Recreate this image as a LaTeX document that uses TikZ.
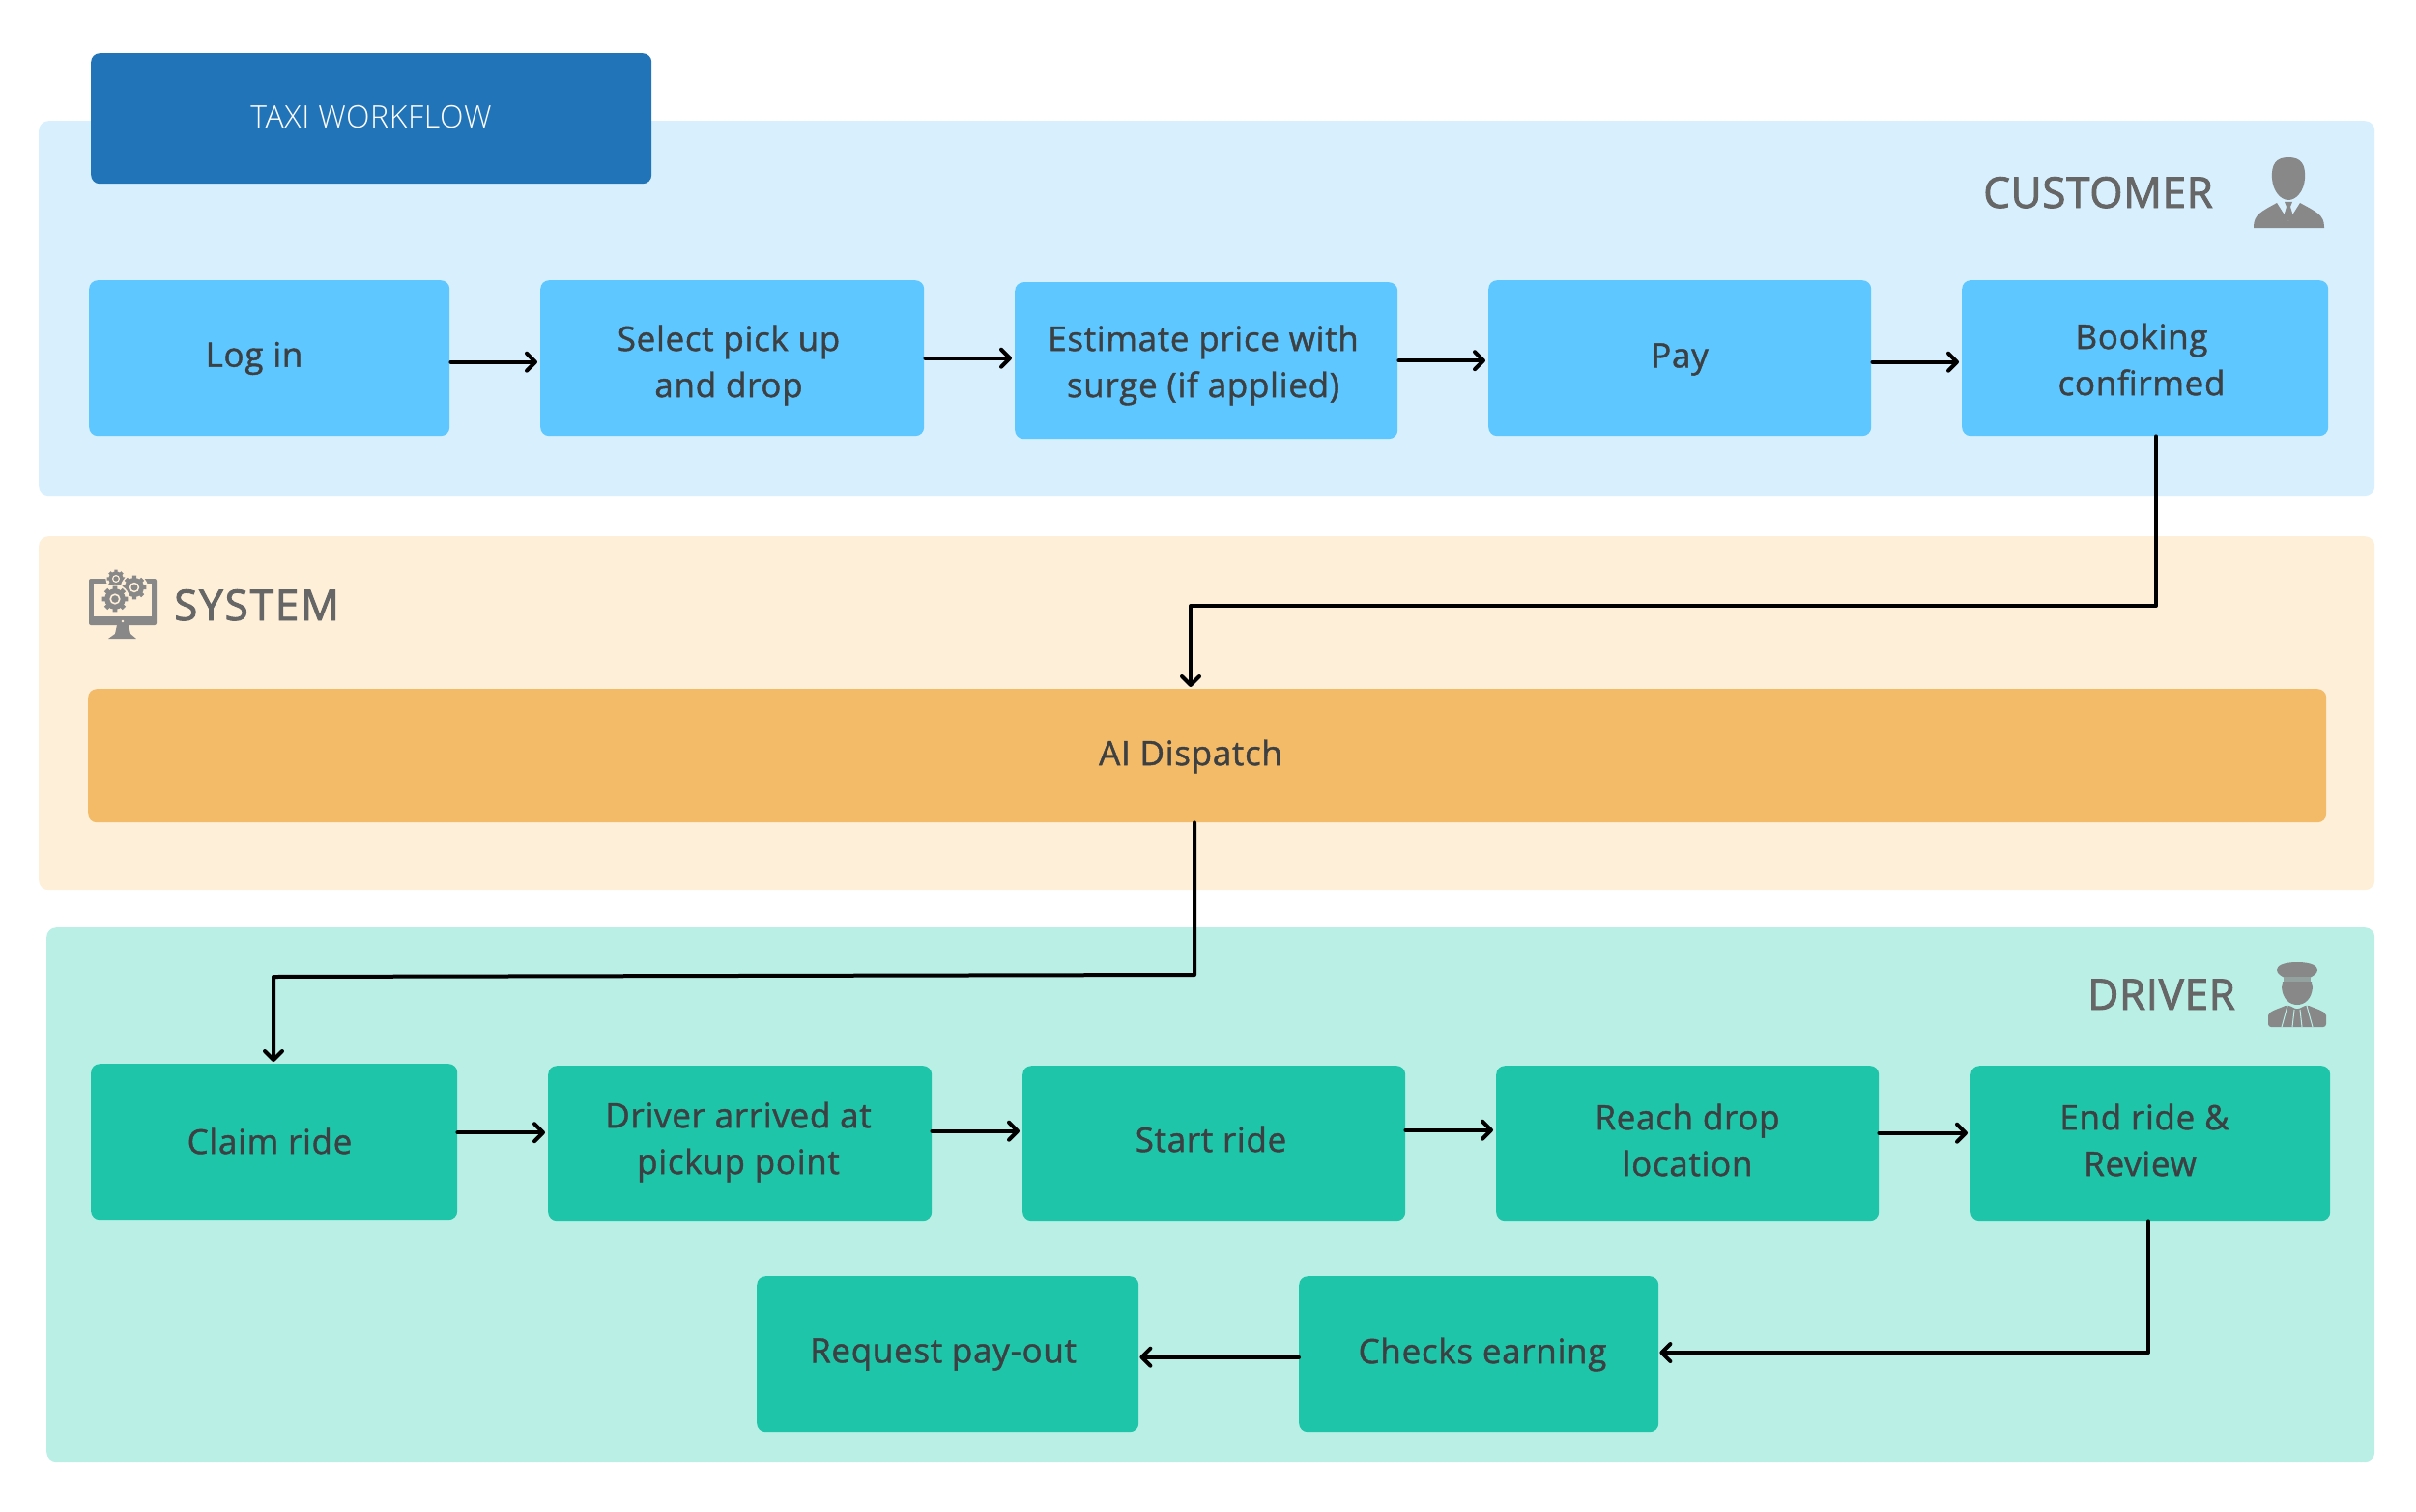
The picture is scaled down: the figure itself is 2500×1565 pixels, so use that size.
\documentclass[tikz,border=0pt]{standalone}
\usepackage{fontspec}
\setmainfont{Open Sans}
\newfontfamily\bodyfont[LetterSpace=2,FakeBold=1.2]{Open Sans}
\newfontfamily\headfont[LetterSpace=1.5,FakeBold=2]{Open Sans}
\newfontfamily\sysfont[LetterSpace=4.2,FakeBold=2]{Open Sans}
\newfontfamily\lightfont[UprightFont=* Light,LetterSpace=2]{Open Sans}
\usetikzlibrary{arrows.meta,calc}
\definecolor{bandC}{HTML}{D8F0FD}
\definecolor{bandS}{HTML}{FEEFD9}
\definecolor{bandD}{HTML}{BAEFE6}
\definecolor{boxC}{HTML}{5FC7FF}
\definecolor{boxS}{HTML}{F3BB67}
\definecolor{boxD}{HTML}{1FC5A8}
\definecolor{titleB}{HTML}{2274B8}
\definecolor{inkT}{HTML}{3C4043}
\definecolor{headT}{HTML}{666666}
\definecolor{iconG}{HTML}{888888}
\tikzset{
 band/.style={rounded corners=10pt,inner sep=0pt,anchor=north west},
 flowbox/.style={rounded corners=9pt,inner sep=0pt,anchor=north west},
 lbl/.style={text=inkT,font=\bodyfont\fontsize{35}{48}\selectfont,align=center,inner sep=0pt},
 head/.style={text=headT,font=\headfont\fontsize{44}{50}\selectfont,inner sep=0pt},
 flow/.style={draw=black,line width=4pt,line cap=round,line join=round,-{Straight Barb[length=9pt,width=18pt,line width=4pt,round]}},
}
\newcommand{\bx}[7]{\node[#1,fill=#7,minimum width=#5pt-#3pt,minimum height=#6pt-#4pt] (#2) at (#3,#4) {};}
\newcommand{\gearshape}[4]{% x y r bg
 \fill[#4] (#1,#2) circle[radius=#3*1.12];
 \foreach \a in {0,45,...,315}{\fill[iconG] ($(#1,#2)+(\a-14:#3*0.7)$) -- ($(#1,#2)+(\a-10:#3)$) -- ($(#1,#2)+(\a+10:#3)$) -- ($(#1,#2)+(\a+14:#3*0.7)$) -- cycle;}
 \fill[iconG] (#1,#2) circle[radius=#3*0.8];
 \fill[#4] (#1,#2) circle[radius=#3*0.42];
 \fill[iconG] (#1,#2) circle[radius=#3*0.28];
}
\begin{document}
\begin{tikzpicture}[x=1pt,y=-1pt]
\useasboundingbox (0,0) rectangle (2500,1565);
% bands
\bx{band}{bandcustomer}{40}{125}{2457}{513}{bandC}
\bx{band}{bandsystem}{40}{555}{2457}{921}{bandS}
\bx{band}{banddriver}{48}{960}{2457}{1513}{bandD}
% title
\node[flowbox,fill=titleB,minimum width=580pt,minimum height=135pt] (title) at (94,55) {};
\node[text=white,font=\lightfont\fontsize{32}{36}\selectfont,inner sep=0pt] (titletext) at (384,121) {TAXI WORKFLOW};
% customer row
\bx{flowbox}{login}{92}{290}{465}{451}{boxC}
\bx{flowbox}{select}{559}{290}{956}{451}{boxC}
\bx{flowbox}{estimate}{1050}{292}{1446}{454}{boxC}
\bx{flowbox}{pay}{1540}{290}{1936}{451}{boxC}
\bx{flowbox}{booking}{2030}{290}{2409}{451}{boxC}
% system
\bx{flowbox}{dispatch}{91}{713}{2407}{851}{boxS}
% driver rows
\bx{flowbox}{claim}{94}{1101}{473}{1263}{boxD}
\bx{flowbox}{arrived}{567}{1103}{964}{1264}{boxD}
\bx{flowbox}{start}{1058}{1103}{1454}{1264}{boxD}
\bx{flowbox}{reach}{1548}{1103}{1944}{1264}{boxD}
\bx{flowbox}{endride}{2039}{1103}{2411}{1264}{boxD}
\bx{flowbox}{request}{783}{1321}{1178}{1482}{boxD}
\bx{flowbox}{checks}{1344}{1321}{1716}{1482}{boxD}
% labels
\node[lbl] (tlogin) at (263,371) {Log in};
\node[lbl] (tselect) at (754,378) {Select pick up\\and drop};
\node[lbl] (testimate) at (1245,378) {Estimate price with\\surge (if applied)};
\node[lbl] (tpay) at (1738,372) {Pay};
\node[lbl] (tbooking) at (2216,372) {Booking\\confirmed};
\node[lbl] (tdispatch) at (1232,783) {AI Dispatch};
\node[lbl] (tclaim) at (279,1181) {Claim ride};
\node[lbl] (tarrived) at (764,1182) {Driver arrived at\\pickup point};
\node[lbl] (tstart) at (1253,1179) {Start ride};
\node[lbl] (treach) at (1746,1180) {Reach drop\\location};
\node[lbl] (tend) at (2219,1180) {End ride \&\\\hspace*{-9pt}Review};
\node[lbl] (trequest) at (976,1402) {Request pay-out};
\node[lbl] (tchecks) at (1534,1402) {Checks earning};
% section headings
\node[head,anchor=base west] (hcustomer) at (2052,215) {CUSTOMER};
\node[head,font=\sysfont\fontsize{44}{50}\selectfont,anchor=base west] (hsystem) at (180,642) {SYSTEM};
\node[head,anchor=base west] (hdriver) at (2160,1045) {DRIVER};
% customer icon
\fill[iconG] (2368,163) .. controls (2381,163) and (2386,170) .. (2385,185) .. controls (2384,198) and (2376,207) .. (2368,207) .. controls (2360,207) and (2352,198) .. (2351,185) .. controls (2350,170) and (2355,163) .. (2368,163) -- cycle;
\fill[iconG] (2332,235) .. controls (2332,222) and (2340,219) .. (2356,210) -- (2368,229) -- (2380,210) .. controls (2396,219) and (2405,222) .. (2405,235) -- (2405,236) -- (2332,236) -- cycle;
\fill[iconG] (2332,232) rectangle (2405,236);
\fill[iconG] (2364,209) -- (2372,209) -- (2370,214) -- (2373,224) -- (2368,229) -- (2363,224) -- (2366,214) -- cycle;
% system icon
\fill[iconG,rounded corners=2pt] (92,599) rectangle (162,647);
\fill[bandS] (97,604) rectangle (157,638);
\fill[iconG] (121,647) -- (133,647) -- (135,656) -- (141,661) -- (112,661) -- (119,656) -- cycle;
\fill[bandS] (127,643) circle[radius=1.3];
\gearshape{120}{599}{9.5}{bandS}
\gearshape{139}{608}{12.5}{bandS}
\gearshape{119}{620}{13.5}{bandS}
% driver icon
\fill[iconG] (2377,996) .. controls (2392,996) and (2398,1000) .. (2398,1004) .. controls (2398,1008) and (2392,1011) .. (2390,1012) -- (2364,1012) .. controls (2362,1011) and (2356,1008) .. (2356,1004) .. controls (2356,1000) and (2362,996) .. (2377,996) -- cycle;
\fill[iconG] (2362,1016) -- (2392,1016) .. controls (2392,1020) and (2393,1020) .. (2393,1022) .. controls (2392,1034) and (2385,1040) .. (2377,1040) .. controls (2369,1040) and (2362,1034) .. (2361,1022) .. controls (2361,1020) and (2362,1020) .. (2362,1016) -- cycle;
\fill[iconG!75!bandD] (2363,1011) rectangle (2391,1016);
\fill[iconG,rounded corners=3pt] (2347,1063) -- (2347,1054) .. controls (2347,1047) and (2358,1044) .. (2367,1040) -- (2377,1045) -- (2387,1040) .. controls (2396,1044) and (2407,1047) .. (2407,1054) -- (2407,1063) -- cycle;
\draw[bandD,line width=1pt] (2367,1041) -- (2361,1063) (2387,1041) -- (2393,1063) (2374,1045) -- (2372,1063) (2380,1045) -- (2382,1063);
% connectors
\draw[flow] ($(login.east)+(1,4)$) -- ($(select.west)+(-3,4)$);
\draw[flow] ($(select.east)+(1,0)$) -- ($(estimate.west |- select.east)+(-3,0)$);
\draw[flow] ($(estimate.east)+(1,0)$) -- ($(pay.west |- estimate.east)+(-3,0)$);
\draw[flow] ($(pay.east)+(1,4)$) -- ($(booking.west)+(-3,4)$);
\coordinate (d1) at (2231,627);
\coordinate (d2) at (1232,627);
\draw[flow] (booking.south -| d1) -- (d1) -- (d2) -- ($(dispatch.north -| d2)+(0,-2)$);
\coordinate (e1) at (1236,1009);
\coordinate (e2) at (283,1011);
\draw[flow] (dispatch.south -| e1) -- (e1) -- (e2) -- ($(claim.north -| e2)+(0,-2)$);
\draw[flow] ($(claim.east)+(0,-10)$) -- ($(arrived.west)+(-3,-11.5)$);
\draw[flow] ($(arrived.east)+(0,-13)$) -- ($(start.west)+(-3,-13)$);
\draw[flow] ($(start.east)+(0,-14)$) -- ($(reach.west)+(-3,-14)$);
\draw[flow] ($(reach.east)+(0,-11)$) -- ($(endride.west)+(-3,-11)$);
\coordinate (f1) at (2223,1400);
\draw[flow] (endride.south -| f1) -- (f1) -- ($(checks.east |- f1)+(1,0)$);
\draw[flow] ($(checks.west)+(0,3)$) -- ($(request.east)+(1,3)$);
\end{tikzpicture}
\end{document}
